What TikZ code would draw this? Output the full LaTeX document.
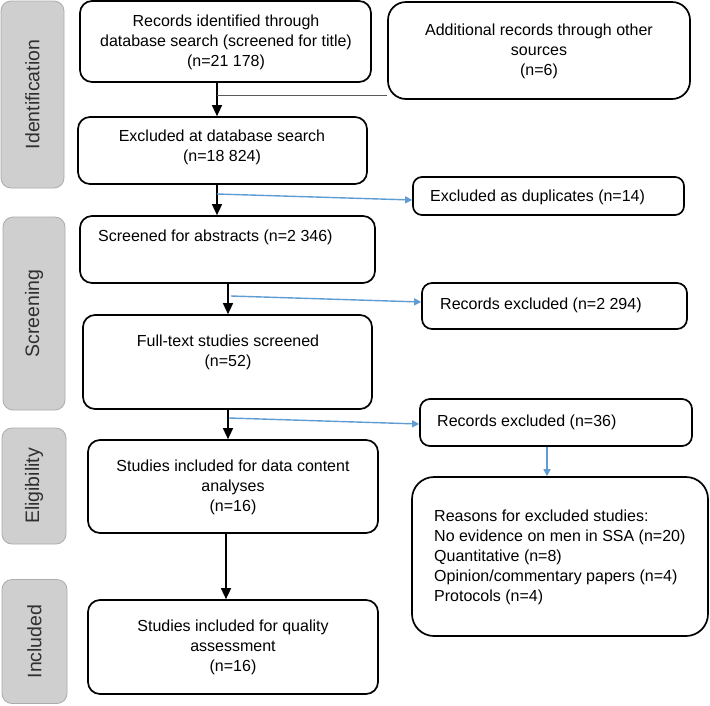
\documentclass[tikz,border=0pt]{standalone}
\usepackage{fontspec}
\setmainfont{Liberation Sans}
\usetikzlibrary{arrows.meta}
\definecolor{arrowblue}{RGB}{96,156,212}
\definecolor{labelfill}{RGB}{207,207,207}
\definecolor{labeldraw}{RGB}{172,172,172}
\definecolor{labeltext}{RGB}{48,48,48}
\definecolor{thingray}{RGB}{90,90,90}
\begin{document}
\begin{tikzpicture}[x=1pt,y=-1pt,
  box/.style={draw=black, line width=1.7pt, rounded corners=12pt, inner sep=0pt},
  txt/.style={align=center, inner sep=0pt, font=\fontsize{16}{20}\selectfont},
  ltxt/.style={align=left, inner sep=0pt, font=\fontsize{16}{20}\selectfont, anchor=west},
  stage/.style={draw=labeldraw, fill=labelfill, line width=0.8pt, rounded corners=10pt, inner sep=0pt},
  stagetxt/.style={rotate=90, inner sep=0pt, text=labeltext, font=\fontsize{19.5}{22}\selectfont},
  blackarrow/.style={draw=black, line width=1.5pt, -{Triangle[width=10pt,length=11pt]}},
  bluearrow/.style={draw=arrowblue, line width=1.4pt, -{Triangle[width=7pt,length=7pt]}},
  grayline/.style={draw=thingray, line width=0.8pt}
]
\useasboundingbox (0,0) rectangle (710,705);
\fill[white] (0,0) rectangle (710,705);

% stage labels
\node[stage, minimum width=63pt, minimum height=187pt] (sid) at (32.5,94.5) {};
\node[stagetxt] (sidt) at (sid.center) {Identification};
\node[stage, minimum width=62pt, minimum height=193pt] (sscr) at (34,313.5) {};
\node[stagetxt] (sscrt) at (sscr.center) {Screening};
\node[stage, minimum width=64pt, minimum height=116pt] (selig) at (34,486) {};
\node[stagetxt] (seligt) at (selig.center) {Eligibility};
\node[stage, minimum width=65pt, minimum height=124pt] (sinc) at (34.5,641.5) {};
\node[stagetxt] (sinct) at (sinc.center) {Included};

% boxes
\node[box, minimum width=291pt, minimum height=81pt] (recid) at (225.5,41.5) {};
\node[txt] (trecid) at (226,42) {Records identified through\\database search (screened for title)\\(n=21 178)};

\node[box, rounded corners=18pt, minimum width=302pt, minimum height=97pt] (addl) at (539,50.5) {};
\node[txt] (taddl) at (539,51) {Additional records through other\\sources\\(n=6)};

\node[box, minimum width=289pt, minimum height=67pt] (excdb) at (222.5,150.5) {};
\node[txt] (texcdb) at (222,147) {Excluded at database search\\(n=18 824)};

\node[box, rounded corners=9pt, minimum width=271pt, minimum height=38pt] (dup) at (548.5,196) {};
\node[ltxt] (tdup) at (430,197) {Excluded as duplicates (n=14)};

\node[box, minimum width=295pt, minimum height=67pt] (abs) at (227.5,249.5) {};
\node[ltxt] (tabs) at (98,237) {Screened for abstracts (n=2 346)};

\node[box, minimum width=289pt, minimum height=94pt] (full) at (227.5,362) {};
\node[txt] (tfull) at (228,352) {Full-text studies screened\\(n=52)};

\node[box, rounded corners=10pt, minimum width=265pt, minimum height=46pt] (rex1) at (554.5,306) {};
\node[ltxt] (trex1) at (440,305) {Records excluded (n=2 294)};

\node[box, rounded corners=10pt, minimum width=272pt, minimum height=47pt] (rex2) at (556,422.5) {};
\node[ltxt] (trex2) at (437,422) {Records excluded (n=36)};

\node[box, minimum width=290pt, minimum height=93pt] (incl) at (233,486.5) {};
\node[txt] (tincl) at (233,487) {Studies included for data content\\analyses\\(n=16)};

\node[box, minimum width=290pt, minimum height=94pt] (qual) at (233,647) {};
\node[txt] (tqual) at (233,647) {Studies included for quality\\assessment\\(n=16)};

\node[box, rounded corners=22pt, minimum width=296pt, minimum height=159pt] (reasons) at (560,556.5) {};
\node[ltxt] (treasons) at (434,557) {Reasons for excluded studies:\\No evidence on men in SSA (n=20)\\Quantitative (n=8)\\Opinion/commentary papers (n=4)\\Protocols (n=4)};

% connector anchors
\coordinate (xa) at (217,0);
\coordinate (xb) at (228,0);
\coordinate (xc) at (226,0);
\coordinate (xd) at (547,0);
\coordinate (g1) at (217,95);
\coordinate (b1s) at (217,194);
\coordinate (b2s) at (231,296);
\coordinate (b3s) at (229,418);

% black arrows
\draw[blackarrow] (recid.south -| xa) -- (excdb.north -| xa);
\draw[blackarrow] (excdb.south -| xa) -- (abs.north -| xa);
\draw[blackarrow] (abs.south -| xb) -- (full.north -| xb);
\draw[blackarrow] (full.south -| xb) -- (incl.north -| xb);
\draw[blackarrow] (incl.south -| xc) -- (qual.north -| xc);

% gray join line
\draw[grayline] (g1) -- (addl.west |- g1);

% blue arrows
\draw[bluearrow] (b1s) -- ([yshift=-4pt]dup.west);
\draw[bluearrow] (b2s) -- ([yshift=4pt]rex1.west);
\draw[bluearrow] (b3s) -- ([yshift=-1.5pt]rex2.west);
\draw[bluearrow] (rex2.south -| xd) -- (reasons.north -| xd);
\end{tikzpicture}
\end{document}
